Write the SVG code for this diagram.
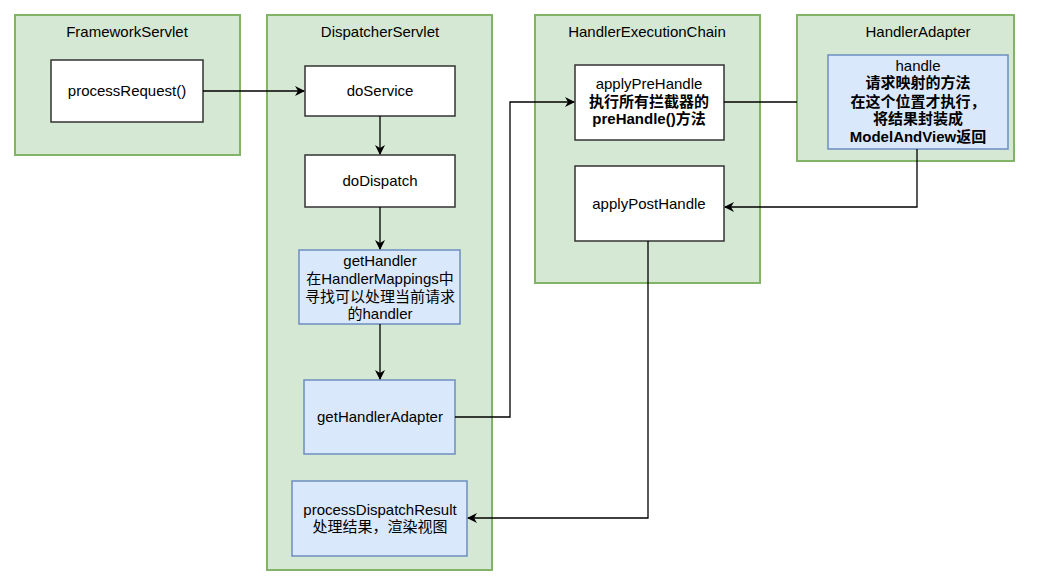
<svg xmlns="http://www.w3.org/2000/svg" width="1049" height="576" viewBox="0 0 1049 576">
<defs>
<style>
.grp{fill:#d5e8d4;stroke:#82b366;stroke-width:2}
.box{fill:#ffffff;stroke:#333333;stroke-width:1.5}
.blue{fill:#dae8fc;stroke:#6c8ebf;stroke-width:1.5}
text{font-family:"Liberation Sans","Noto Sans CJK SC",sans-serif;font-size:15px;fill:#000;text-anchor:middle}
.b{font-weight:bold}
.edge{fill:none;stroke:#000;stroke-width:1.3}
</style>
<marker id="arr" viewBox="0 0 10 10" refX="9" refY="5" markerWidth="10" markerHeight="10" markerUnits="userSpaceOnUse" orient="auto">
<path d="M0,0 L10,5 L0,10 L3,5 Z" fill="#000"/>
</marker>
</defs>
<rect width="1049" height="576" fill="#fff"/>
<g id="FrameworkServlet">
<rect class="grp" x="15" y="15" width="225" height="140"/>
<text x="127" y="37">FrameworkServlet</text>
</g>
<g id="DispatcherServlet">
<rect class="grp" x="267" y="15" width="225" height="555"/>
<text x="380" y="37">DispatcherServlet</text>
</g>
<g id="HandlerExecutionChain">
<rect class="grp" x="535" y="15" width="225" height="268"/>
<text x="647" y="37">HandlerExecutionChain</text>
</g>
<g id="HandlerAdapter">
<rect class="grp" x="797" y="15" width="217" height="146"/>
<text x="918" y="37">HandlerAdapter</text>
</g>
<g id="processRequest">
<rect class="box" x="51" y="60" width="152" height="62"/>
<text x="127" y="96">processRequest()</text>
</g>
<g id="doService">
<rect class="box" x="305" y="66" width="150" height="50"/>
<text x="380" y="96">doService</text>
</g>
<g id="doDispatch">
<rect class="box" x="305" y="155" width="150" height="52"/>
<text x="380" y="186">doDispatch</text>
</g>
<g id="getHandler">
<rect class="blue" x="299" y="250" width="161" height="74"/>
<text x="380" y="266">getHandler</text>
<text x="380" y="284">在HandlerMappings中</text>
<text x="380" y="302">寻找可以处理当前请求</text>
<text x="380" y="319">的handler</text>
</g>
<g id="getHandlerAdapter">
<rect class="blue" x="304" y="380" width="151" height="74"/>
<text x="380" y="422">getHandlerAdapter</text>
</g>
<g id="processDispatchResult">
<rect class="blue" x="292" y="481" width="175" height="75"/>
<text x="380" y="515">processDispatchResult</text>
<text x="380" y="532">处理结果，渲染视图</text>
</g>
<g id="applyPreHandle">
<rect class="box" x="575" y="65" width="149" height="75"/>
<text x="649" y="89">applyPreHandle</text>
<text x="649" y="107" class="b">执行所有拦截器的</text>
<text x="649" y="124" class="b">preHandle()方法</text>
</g>
<g id="applyPostHandle">
<rect class="box" x="575" y="166" width="149" height="75"/>
<text x="649" y="209">applyPostHandle</text>
</g>
<g id="handle">
<rect class="blue" x="828" y="55" width="180" height="94"/>
<text x="918" y="71">handle</text>
<text x="918" y="88" class="b">请求映射的方法</text>
<text x="918" y="107" class="b">在这个位置才执行，</text>
<text x="918" y="124" class="b">将结果封装成</text>
<text x="918" y="142" class="b">ModelAndView返回</text>
</g>
<g id="connectors">
<path class="edge" d="M203,91 L304,91" marker-end="url(#arr)"/>
<path class="edge" d="M380,116 L380,154" marker-end="url(#arr)"/>
<path class="edge" d="M380,207 L380,249" marker-end="url(#arr)"/>
<path class="edge" d="M380,324 L380,379" marker-end="url(#arr)"/>
<path class="edge" d="M455,417 L510,417 L510,102 L574,102" marker-end="url(#arr)"/>
<path class="edge" d="M724,102 L797,102"/>
<path class="edge" d="M917,149 L917,207 L725,207" marker-end="url(#arr)"/>
<path class="edge" d="M648,241 L648,518 L468,518" marker-end="url(#arr)"/>
</g>
</svg>
